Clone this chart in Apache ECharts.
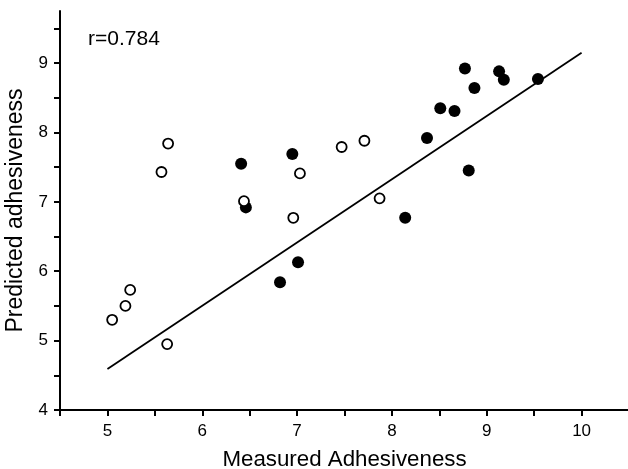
<!DOCTYPE html>
<html>
<head>
<meta charset="utf-8">
<script src="https://cdn.jsdelivr.net/npm/echarts@6/dist/echarts.min.js"></script>
<style>html,body{margin:0;padding:0;background:#fff}#c{width:628px;height:469px}</style>
</head>
<body>
<div id="c"></div>
<script>
// Open circles (measured, predicted)
const openPoints = [
  [5.05, 5.30], [5.19, 5.50], [5.24, 5.73], [5.63, 4.95],
  [5.57, 7.43], [5.64, 7.84], [6.44, 7.01], [7.03, 7.41],
  [6.96, 6.77], [7.47, 7.79], [7.71, 7.88], [7.87, 7.05]
];
// Filled circles (measured, predicted)
const filledPoints = [
  [6.41, 7.55], [6.46, 6.92], [6.95, 7.69], [6.82, 5.84], [7.01, 6.13],
  [8.14, 6.77], [8.81, 7.45], [8.37, 7.92], [8.51, 8.35], [8.66, 8.31],
  [8.77, 8.92], [8.87, 8.64], [9.13, 8.88], [9.18, 8.76], [9.54, 8.77]
];
// Regression line endpoints
const fitLine = [[5.0, 4.59], [10.0, 9.15]];
const xTicks = [4.5, 5, 5.5, 6, 6.5, 7, 7.5, 8, 8.5, 9, 9.5, 10, 10.5];
const xLabels = [5, 6, 7, 8, 9, 10];
const yTicks = [4, 4.5, 5, 5.5, 6, 6.5, 7, 7.5, 8, 8.5, 9, 9.5];
const yLabels = [4, 5, 6, 7, 8, 9];
const rText = 'r=0.784';
const xTitle = 'Measured Adhesiveness';
const yTitle = 'Predicted adhesiveness';

const font = 'Liberation Sans, Arial, sans-serif';
const chart = echarts.init(document.getElementById('c'), null, {renderer: 'canvas'});
chart.setOption({
  animation: false,
  backgroundColor: '#fff',
  grid: {left: 60, top: 11, width: 569, height: 399, containLabel: false, outerBoundsMode: 'none'},
  xAxis: {
    type: 'value', min: 4.5, max: 10.5,
    name: xTitle, nameLocation: 'middle', nameGap: 39,
    nameTextStyle: {fontFamily: font, fontSize: 22.3, color: '#000'},
    axisLine: {show: true, lineStyle: {color: '#000', width: 2}},
    axisTick: {show: true, customValues: xTicks, length: 6, lineStyle: {color: '#000', width: 2}},
    axisLabel: {customValues: xLabels, fontFamily: font, fontSize: 17, color: '#000', margin: 13},
    splitLine: {show: false}
  },
  yAxis: {
    type: 'value', min: 4, max: 9.75,
    name: yTitle, nameLocation: 'middle', nameGap: 30, nameRotate: 90,
    nameTextStyle: {fontFamily: font, fontSize: 23, color: '#000'},
    axisLine: {show: true, lineStyle: {color: '#000', width: 2}},
    axisTick: {show: true, customValues: yTicks, length: 6, lineStyle: {color: '#000', width: 2}},
    axisLabel: {customValues: yLabels, fontFamily: font, fontSize: 17, color: '#000', margin: 12},
    splitLine: {show: false}
  },
  graphic: [{
    type: 'text', left: 88, top: 29,
    style: {text: rText, font: '21px ' + font, fill: '#000'}
  }],
  series: [
    {
      type: 'line', data: fitLine, showSymbol: false, symbol: 'none',
      lineStyle: {color: '#000', width: 1.8}, z: 1
    },
    {
      type: 'scatter', data: openPoints, symbol: 'circle', symbolSize: 10,
      itemStyle: {color: '#fff', borderColor: '#000', borderWidth: 1.8, opacity: 1}, z: 3
    },
    {
      type: 'scatter', data: filledPoints, symbol: 'circle', symbolSize: 12,
      itemStyle: {color: '#000', opacity: 1}, z: 2
    }
  ]
});
</script>
</body>
</html>
